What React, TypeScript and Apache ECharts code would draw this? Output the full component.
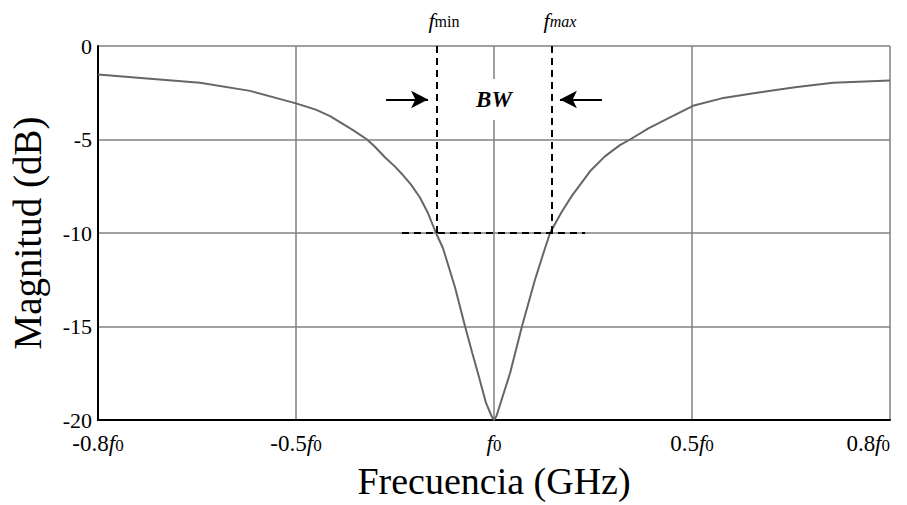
import React, { useEffect, useRef } from "react";
import * as echarts from "echarts";

// x positions are in evenly-spaced axis units: -2=-0.8f0, -1=-0.5f0, 0=f0, 1=0.5f0, 2=0.8f0
const xTickValues = [-2, -1, 0, 1, 2];
const xTickLabels = ["-0.8", "-0.5", "", "0.5", "0.8"];
const yTicks = [0, -5, -10, -15, -20];

const curveX = [
  -2, -1.737, -1.485, -1.232, -1, -0.9, -0.828, -0.712, -0.641, -0.6, -0.551, -0.5, -0.46, -0.42, -0.374, -0.335, -0.293,
  -0.258, -0.197, -0.146, -0.11, -0.081, -0.04, -0.012, 0,
  0.012, 0.03, 0.081, 0.141, 0.207, 0.258, 0.283, 0.34, 0.394, 0.485, 0.56, 0.636, 0.687, 0.78, 0.874, 1.005,
  1.15, 1.328, 1.52, 1.712, 2,
];
const curveY = [
  -1.53, -1.75, -1.96, -2.4, -3.07, -3.4, -3.75, -4.5, -5.0, -5.4, -5.95, -6.45, -6.9, -7.4, -8.1, -8.9, -10,
  -10.8, -12.9, -15, -16.4, -17.5, -19.1, -19.8, -20,
  -19.8, -19.2, -17.5, -15, -12.5, -10.8, -10, -8.9, -8.0, -6.7, -5.9, -5.3, -5.0, -4.4, -3.9, -3.2,
  -2.8, -2.5, -2.2, -1.97, -1.85,
];

const fMinX = -0.288;
const fMaxX = 0.293;
const bwLevel = -10;
const bwLineStart = -0.465;
const bwLineEnd = 0.46;
const arrowY = -2.86;
const arrowLeft = [-0.545, -0.333];
const arrowRight = [0.545, 0.333];

const SERIF = "Liberation Serif";

export default function App() {
  const ref = useRef<HTMLDivElement>(null);
  useEffect(() => {
    if (!ref.current) return;
    const chart = echarts.init(ref.current, null, { renderer: "svg" });
    const data = curveX.map((x, i) => [x, curveY[i]]);
    const dash = { color: "#000", width: 2, type: [7, 5] as any };
    chart.setOption({
      animation: false,
      backgroundColor: "#fff",
      textStyle: { fontFamily: SERIF },
      grid: { left: 98, right: 17, top: 46, bottom: 81, containLabel: false },
      xAxis: {
        type: "value",
        min: -2,
        max: 2,
        interval: 1,
        name: "Frecuencia (GHz)",
        nameLocation: "middle",
        nameGap: 42,
        nameTextStyle: { fontFamily: SERIF, fontSize: 38, color: "#000" },
        axisLine: { show: true, onZero: false, lineStyle: { color: "#000", width: 2 } },
        axisTick: { show: false },
        splitLine: { show: true, lineStyle: { color: "#808080", width: 1.5 } },
        axisLabel: {
          margin: 12,
          alignMaxLabel: "right",
          fontFamily: SERIF,
          fontSize: 23,
          formatter: (v: number) => {
            const idx = xTickValues.indexOf(Math.round(v));
            const pre = idx >= 0 ? xTickLabels[idx] : "";
            return (pre ? "{n|" + pre + "}" : "") + "{i|f}{s|0}";
          },
          rich: {
            n: { fontFamily: SERIF, fontSize: 23, color: "#000", verticalAlign: "bottom" },
            i: { fontFamily: SERIF, fontSize: 23, fontStyle: "italic", color: "#000", verticalAlign: "bottom" },
            s: { fontFamily: SERIF, fontSize: 17, color: "#000", verticalAlign: "bottom", padding: [0, 0, 1, 0] },
          },
        },
      },
      yAxis: {
        type: "value",
        min: -20,
        max: 0,
        interval: 5,
        name: "Magnitud (dB)",
        nameLocation: "middle",
        nameGap: 51,
        nameTextStyle: { fontFamily: SERIF, fontSize: 39, color: "#000" },
        axisLine: { show: true, onZero: false, lineStyle: { color: "#000", width: 2 } },
        axisTick: { show: false },
        splitLine: { show: true, lineStyle: { color: "#808080", width: 1.5 } },
        axisLabel: {
          margin: 6,
          fontFamily: SERIF,
          fontSize: 22,
          color: "#000",
          formatter: (v: number) => (yTicks.includes(v) ? String(v) : ""),
        },
      },
      series: [
        {
          type: "line",
          data,
          showSymbol: false,
          symbol: "none",
          lineStyle: { color: "#666", width: 2 },
          z: 3,
        },
        {
          type: "line",
          data: [],
          z: 4,
          markLine: {
            silent: true,
            symbol: ["none", "none"],
            label: { show: false },
            lineStyle: dash,
            data: [
              [{ coord: [fMinX, 0] }, { coord: [fMinX, bwLevel] }],
              [{ coord: [fMaxX, 0] }, { coord: [fMaxX, bwLevel] }],
              [{ coord: [bwLineStart, bwLevel] }, { coord: [bwLineEnd, bwLevel] }],
              [
                { coord: [arrowLeft[0], arrowY], symbol: "none", lineStyle: { color: "#000", width: 2, type: "solid" } },
                { coord: [arrowLeft[1], arrowY], symbol: "arrow", symbolSize: [13, 17] },
              ],
              [
                { coord: [arrowRight[0], arrowY], symbol: "none", lineStyle: { color: "#000", width: 2, type: "solid" } },
                { coord: [arrowRight[1], arrowY], symbol: "arrow", symbolSize: [13, 17] },
              ],
            ],
          },
          markPoint: {
            silent: true,
            symbol: "circle",
            symbolSize: 1,
            itemStyle: { color: "rgba(0,0,0,0)" },
            data: [
              {
                coord: [0, arrowY],
                label: {
                  show: true,
                  position: "inside",
                  formatter: "BW",
                  fontFamily: SERIF,
                  fontSize: 23,
                  fontStyle: "italic",
                  fontWeight: "bold",
                  color: "#000",
                  backgroundColor: "#fff",
                  padding: [9, 6, 9, 6],
                },
              },
              {
                coord: [fMinX, 0],
                label: {
                  show: true,
                  position: "inside",
                  offset: [7, -26],
                  formatter: "{i|f}{n|min}",
                  rich: {
                    i: { fontFamily: SERIF, fontSize: 22, fontStyle: "italic", color: "#000", verticalAlign: "bottom" },
                    n: { fontFamily: SERIF, fontSize: 16, color: "#000", verticalAlign: "bottom", padding: [0, 0, 2, 0] },
                  },
                },
              },
              {
                coord: [fMaxX, 0],
                label: {
                  show: true,
                  position: "inside",
                  offset: [8, -26],
                  formatter: "{i|f}{n|max}",
                  rich: {
                    i: { fontFamily: SERIF, fontSize: 22, fontStyle: "italic", color: "#000", verticalAlign: "bottom" },
                    n: { fontFamily: SERIF, fontSize: 16, fontStyle: "italic", color: "#000", verticalAlign: "bottom", padding: [0, 0, 2, 0] },
                  },
                },
              },
            ],
          },
        },
      ],
    });
    return () => chart.dispose();
  }, []);
  return (
    <div
      ref={ref}
      style={{ position: "absolute", left: 0, top: 0, width: 907, height: 505, background: "#fff" }}
    />
  );
}
